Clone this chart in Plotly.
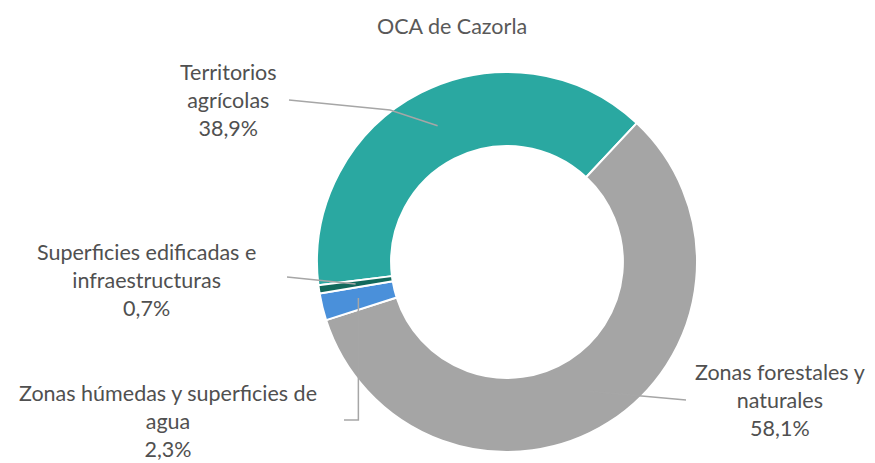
import math
import plotly.graph_objects as go

# Data
categories = ["Territorios agrícolas", "Zonas forestales y naturales",
              "Zonas húmedas y superficies de agua", "Superficies edificadas e infraestructuras"]
values = [38.9, 58.1, 2.3, 0.7]
label_texts = ["Territorios<br>agrícolas<br>38,9%",
               "Zonas forestales y<br>naturales<br>58,1%",
               "Zonas húmedas y superficies de<br>agua<br>2,3%",
               "Superficies edificadas e<br>infraestructuras<br>0,7%"]
colors = ["#2AA8A1", "#A5A5A5", "#4A90DA", "#12695C"]
title_text = "OCA de Cazorla"

W, H = 875, 463
cx, cy, R = 507, 262, 190
hole = 0.61
rotation = 263.0

FONT = "Lato"
TXT = "#505050"
LINE = "#A6A6A6"

fig = go.Figure(go.Pie(
    labels=categories, values=values, sort=False, direction="clockwise",
    rotation=rotation, hole=hole, textinfo="none", hoverinfo="label+percent",
    marker=dict(colors=colors, line=dict(color="white", width=2)),
    domain=dict(x=[(cx - R) / W, (cx + R) / W], y=[(H - cy - R) / H, (H - cy + R) / H]),
    showlegend=False,
))

# mid angles (clockwise from top) and mid-ring anchor points
total = sum(values)
mids = []
acc = 0.0
for v in values:
    mids.append(rotation + 360.0 * (acc + v / 2) / total)
    acc += v
rm = R * (1 + hole) / 2
anchors = [(cx + rm * math.sin(math.radians(a)), cy - rm * math.cos(math.radians(a))) for a in mids]

def px(x):
    return x / W

def py(y):
    return 1 - y / H

# label positions (pixels, center)
label_pos = [(228, 100), (780, 400), (168, 421), (146, 280)]
for t, (lx, ly) in zip(label_texts, label_pos):
    fig.add_annotation(x=px(lx), y=py(ly), xref="paper", yref="paper", text=t,
                       showarrow=False, xanchor="center", yanchor="middle",
                       font=dict(family=FONT, size=21.5, color=TXT), align="center")

shapes = []
# Territorios
ax, ay = anchors[0]
shapes.append(dict(type="path", path=f"M {px(289)},{py(100)} L {px(390)},{py(110)} L {px(ax)},{py(ay)}"))
# Zonas forestales
ax, ay = anchors[1]
shapes.append(dict(type="path", path=f"M {px(686)},{py(400)} L {px(ax)},{py(ay)}"))
# Zonas húmedas
ax, ay = anchors[2]
shapes.append(dict(type="path", path=f"M {px(344)},{py(420)} L {px(ax)},{py(420)} L {px(ax)},{py(ay)}"))
# Superficies
ax, ay = anchors[3]
shapes.append(dict(type="path", path=f"M {px(287)},{py(277)} L {px(ax)},{py(ay)}"))
for s in shapes:
    s.update(xref="paper", yref="paper", line=dict(color=LINE, width=1.5), layer="above")
fig.update_layout(shapes=shapes)

fig.add_annotation(x=px(452), y=py(26), xref="paper", yref="paper", text=title_text,
                   showarrow=False, xanchor="center", yanchor="middle",
                   font=dict(family=FONT, size=21.5, color="#595959"))

fig.update_layout(width=W, height=H, margin=dict(l=0, r=0, t=0, b=0),
                  paper_bgcolor="white", plot_bgcolor="white")

fig.write_html("out.html", config={"displayModeBar": False},
               post_script="document.body.style.margin='0';document.body.style.overflow='hidden';")
